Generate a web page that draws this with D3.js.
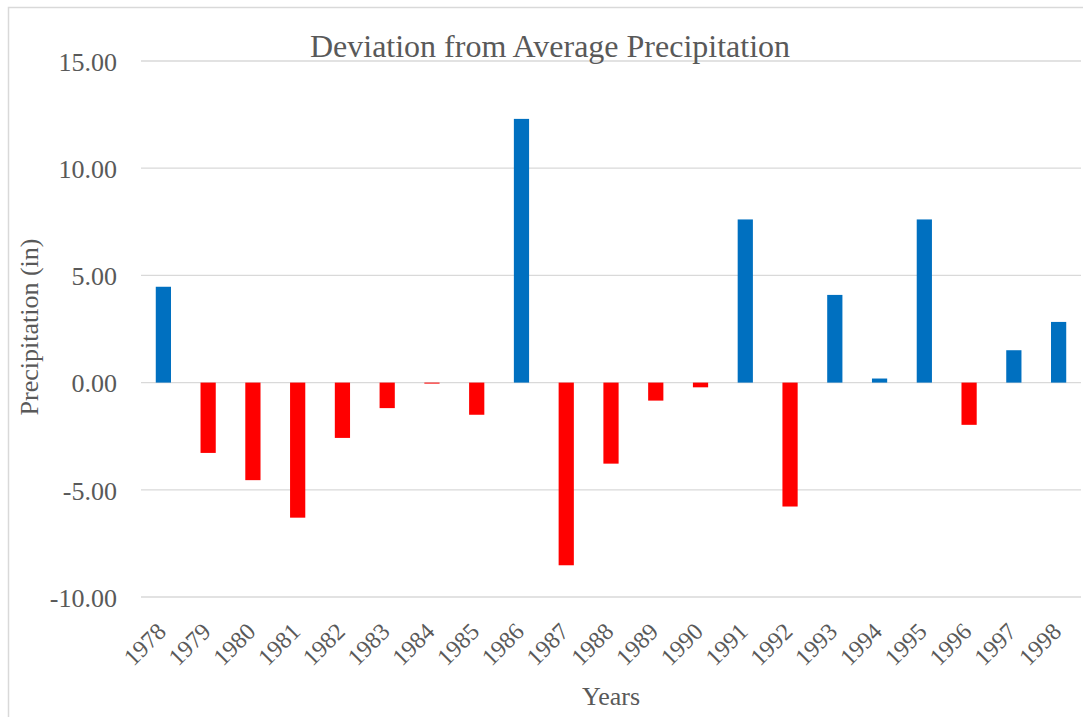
<!DOCTYPE html>
<html>
<head>
<meta charset="utf-8">
<script src="https://cdn.jsdelivr.net/npm/d3@7"></script>
<style>
  html, body { margin: 0; padding: 0; background: #fff; }
  svg { display: block; }
  svg text { font-family: "Liberation Serif", "Times New Roman", "DejaVu Serif", serif; fill: #595959; }
</style>
</head>
<body>
<svg id="chart" width="1083" height="717"></svg>
<script>
// Annual deviation from average precipitation, inches
const years = ["1978","1979","1980","1981","1982","1983","1984","1985","1986","1987","1988",
               "1989","1990","1991","1992","1993","1994","1995","1996","1997","1998"];
const deviation = [4.47, -3.28, -4.55, -6.30, -2.58, -1.19, -0.03, -1.50, 12.30, -8.52, -3.78,
                   -0.84, -0.22, 7.61, -5.78, 4.09, 0.19, 7.61, -1.97, 1.51, 2.83];
const yTicks = [-10, -5, 0, 5, 10, 15];

const SERIF = '"Liberation Serif", "Times New Roman", "DejaVu Serif", serif';
const svg = d3.select("#chart");
const plot = { left: 141, right: 1081, top: 61, bottom: 597 };

// Outer chart frame
svg.append("rect")
  .attr("x", 8.5).attr("y", 7.5)
  .attr("width", 1100).attr("height", 730)
  .attr("fill", "#fff").attr("stroke", "#d9d9d9").attr("stroke-width", 1.5);

const x = d3.scaleBand().domain(years).range([plot.left, plot.right]).paddingInner(0.66).paddingOuter(0.33);
const y = d3.scaleLinear().domain([-10, 15]).range([plot.bottom, plot.top]);

// Horizontal gridlines
svg.append("g").selectAll("line").data(yTicks).join("line")
  .attr("x1", plot.left).attr("x2", plot.right)
  .attr("y1", d => y(d)).attr("y2", d => y(d))
  .attr("stroke", "#d9d9d9").attr("stroke-width", 1.3);

// Y axis tick labels (plain hyphen for negatives)
const yAxis = d3.axisLeft(y).tickValues(yTicks).tickFormat(d => d.toFixed(2)).tickSize(0).tickPadding(0);
svg.append("g").attr("transform", `translate(${plot.left - 24},0)`).call(yAxis)
  .call(g => g.select(".domain").remove())
  .selectAll("text")
  .style("font-family", SERIF).style("font-size", "26px").style("fill", "#595959")
  .attr("dy", "0.36em");

// Bars: positive blue, negative red
svg.append("g").selectAll("rect").data(years.map((yr, i) => ({ yr, v: deviation[i] }))).join("rect")
  .attr("x", d => x(d.yr))
  .attr("width", x.bandwidth())
  .attr("y", d => d.v >= 0 ? y(d.v) : y(0))
  .attr("height", d => Math.max(1, Math.abs(y(d.v) - y(0))))
  .attr("fill", d => d.v >= 0 ? "#0070c0" : "#ff0000");

// Rotated year labels
svg.append("g").selectAll("text").data(years).join("text")
  .attr("transform", d => `translate(${x(d) + x.bandwidth() / 2 + 4},${plot.bottom + 36}) rotate(-45)`)
  .attr("text-anchor", "end")
  .style("font-family", SERIF).style("font-size", "24px")
  .text(d => d);

// Titles
svg.append("text").attr("x", 550).attr("y", 57).attr("text-anchor", "middle")
  .style("font-family", SERIF).style("font-size", "32px")
  .text("Deviation from Average Precipitation");

svg.append("text").attr("transform", `translate(38,327) rotate(-90)`).attr("text-anchor", "middle")
  .style("font-family", SERIF).style("font-size", "26px")
  .text("Precipitation (in)");

svg.append("text").attr("x", 611).attr("y", 705).attr("text-anchor", "middle")
  .style("font-family", SERIF).style("font-size", "26px")
  .text("Years");
</script>
</body>
</html>
